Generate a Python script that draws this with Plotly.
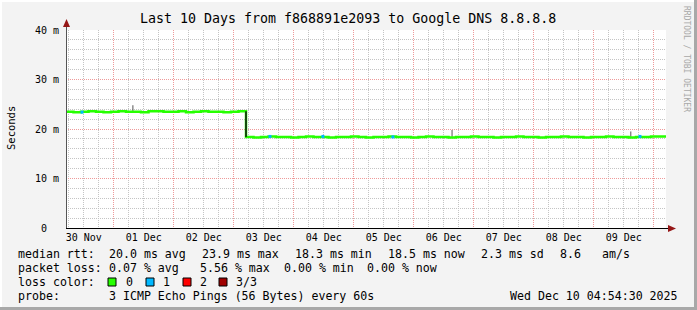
import plotly.graph_objects as go
import pandas as pd

# ---------------- data ----------------
start_time = "2025-11-30 04:54:30"
end_time = "2025-12-10 04:54:30"

median_ms = [
    23.5, 23.4, 23.5, 23.6, 23.5, 23.4, 23.5, 23.6, 23.5, 23.5, 23.4, 23.6,
    23.6, 23.5, 23.5, 23.6, 23.4, 23.5, 23.6, 23.5, 23.5, 23.4, 23.5, 23.6,
    18.4, 18.3, 18.4, 18.5, 18.4, 18.4, 18.3, 18.4, 18.5, 18.4,
    18.4, 18.3, 18.4, 18.4, 18.5, 18.4, 18.3, 18.4, 18.4, 18.5,
    18.4, 18.4, 18.3, 18.4, 18.5, 18.4, 18.4, 18.3, 18.4, 18.4,
    18.5, 18.4, 18.4, 18.3, 18.4, 18.4, 18.5, 18.4, 18.4, 18.3,
    18.4, 18.4, 18.5, 18.4, 18.4, 18.3, 18.4, 18.4, 18.5, 18.4,
    18.4, 18.3, 18.4, 18.4, 18.5, 18.5, 18.5,
]

spike_times = ["2025-12-01 07:40", "2025-12-06 15:20", "2025-12-09 14:50"]
spike_lo = [23.5, 18.4, 18.4]
spike_hi = [24.8, 19.8, 19.5]

loss1_times = ["2025-11-30 11:20", "2025-12-03 14:30", "2025-12-04 11:40",
               "2025-12-05 15:40", "2025-12-09 18:30"]
loss1_vals = [23.4, 18.5, 18.5, 18.4, 18.5]

y_tickvals = [0, 10, 20, 30, 40]
y_ticktext = ["0  ", "10 m", "20 m", "30 m", "40 m"]

title_text = "Last 10 Days from f868891e2093 to Google DNS 8.8.8.8"
legend_rows = [
    [("median rtt:", 16), ("20.0 ms avg", 107), ("23.9 ms max", 200),
     ("18.3 ms min", 293), ("18.5 ms now", 386), ("2.3 ms sd", 479),
     ("8.6", 558), ("am/s", 600)],
    [("packet loss:", 16), ("0.07 % avg", 107), ("5.56 % max", 198),
     ("0.00 % min", 282), ("0.00 % now", 365)],
    [("loss color:", 16), ("0", 124), ("1", 161), ("2", 198), ("3/3", 234)],
    [("probe:", 16), ("3 ICMP Echo Pings (56 Bytes) every 60s", 107)],
]
loss_colors = ["#26ff00", "#00b8ff", "#ff0000", "#a00000"]
loss_swatch_x = [108, 146, 183, 219]
stamp_text = "Wed Dec 10 04:54:30 2025"

# ---------------- layout helpers ----------------
W, H = 697, 310
ML, MR, MT, MB = 66, 31, 30, 82
PW = W - ML - MR
PH = H - MT - MB


def px(x):
    return (x - ML) / PW


def py(y):
    return (H - MB - y) / PH


MONO = "DejaVu Sans Mono"

times = pd.date_range(start_time, periods=len(median_ms), freq=pd.Timedelta(hours=3))

fig = go.Figure()

# smoke spikes
sx, sy = [], []
for t, lo, hi in zip(spike_times, spike_lo, spike_hi):
    sx += [t, t, None]
    sy += [lo, hi, None]
fig.add_trace(go.Scatter(x=sx, y=sy, mode="lines",
                         line=dict(color="#555555", width=1), hoverinfo="skip"))

# median line (loss 0 colour)
fig.add_trace(go.Scatter(x=times, y=median_ms, mode="lines",
                         line=dict(color=loss_colors[0], width=2.5, shape="hv"),
                         hoverinfo="skip"))

# dark transitions
dx, dy = [], []
for i in range(1, len(median_ms)):
    if abs(median_ms[i] - median_ms[i - 1]) > 1:
        dx += [times[i], times[i], None]
        dy += [median_ms[i - 1], median_ms[i], None]
fig.add_trace(go.Scatter(x=dx, y=dy, mode="lines",
                         line=dict(color="#111111", width=1.5), hoverinfo="skip"))

# loss 1 marks
fig.add_trace(go.Scatter(x=loss1_times, y=loss1_vals, mode="markers",
                         marker=dict(color=loss_colors[1], symbol="square", size=3,
                                     line=dict(width=0)),
                         hoverinfo="skip"))

annotations = []
annotations.append(dict(text=title_text, xref="paper", yref="paper",
                        x=px(347.5), y=py(19), xanchor="center", yanchor="middle",
                        showarrow=False, font=dict(family=MONO, size=13.3, color="#000")))
annotations.append(dict(text="Seconds", xref="paper", yref="paper",
                        x=px(10.5), y=py(128.5), xanchor="center", yanchor="middle",
                        textangle=-90, showarrow=False,
                        font=dict(family=MONO, size=10.5, color="#000")))
annotations.append(dict(text="RRDTOOL / TOBI OETIKER", xref="paper", yref="paper",
                        x=px(687), y=py(59), xanchor="center", yanchor="middle",
                        textangle=90, showarrow=False,
                        font=dict(family=MONO, size=8, color="#a8a8a8")))
row_y = [254, 268, 282, 296]
for row, yy in zip(legend_rows, row_y):
    for txt, xx in row:
        annotations.append(dict(text=txt, xref="paper", yref="paper",
                                x=px(xx), y=py(yy), xanchor="left", yanchor="middle",
                                showarrow=False,
                                font=dict(family=MONO, size=11.6, color="#000")))
annotations.append(dict(text=stamp_text, xref="paper", yref="paper",
                        x=px(680), y=py(296), xanchor="right", yanchor="middle",
                        showarrow=False, font=dict(family=MONO, size=11.6, color="#000")))

shapes = []
# loss colour swatches
for c, xx in zip(loss_colors, loss_swatch_x):
    shapes.append(dict(type="rect", xref="paper", yref="paper",
                       x0=px(xx), x1=px(xx + 8), y0=py(278), y1=py(286),
                       fillcolor=c, line=dict(color="#000", width=1)))
# frame edges
shapes.append(dict(type="rect", xref="paper", yref="paper", x0=px(694), x1=px(697),
                   y0=py(310), y1=py(0), fillcolor="#a8a8a8", line=dict(width=0)))
shapes.append(dict(type="rect", xref="paper", yref="paper", x0=px(0), x1=px(697),
                   y0=py(310), y1=py(307), fillcolor="#a8a8a8", line=dict(width=0)))
shapes.append(dict(type="rect", xref="paper", yref="paper", x0=px(0), x1=px(694),
                   y0=py(2), y1=py(0), fillcolor="#ffffff", line=dict(width=0)))
shapes.append(dict(type="rect", xref="paper", yref="paper", x0=px(0), x1=px(2),
                   y0=py(307), y1=py(0), fillcolor="#ffffff", line=dict(width=0)))
# axis lines
shapes.append(dict(type="line", xref="paper", yref="paper", x0=px(66.5), x1=px(66.5),
                   y0=py(228), y1=py(24), line=dict(color="#555555", width=1)))
shapes.append(dict(type="line", xref="paper", yref="paper", x0=px(66), x1=px(670),
                   y0=py(228.5), y1=py(228.5), line=dict(color="#000000", width=1)))
# arrows
shapes.append(dict(type="path", xref="paper", yref="paper",
                   path=f"M {px(66.5)} {py(19)} L {px(63)} {py(27)} L {px(70)} {py(27)} Z",
                   fillcolor="#951616", line=dict(width=0)))
shapes.append(dict(type="path", xref="paper", yref="paper",
                   path=f"M {px(676)} {py(228.5)} L {px(668)} {py(225)} L {px(668)} {py(232)} Z",
                   fillcolor="#951616", line=dict(width=0)))

fig.update_layout(
    width=W, height=H,
    margin=dict(l=ML, r=MR, t=MT, b=MB, pad=0),
    paper_bgcolor="#f3f3f3", plot_bgcolor="#ffffff",
    showlegend=False,
    annotations=annotations, shapes=shapes,
    xaxis=dict(
        type="date", range=[start_time, end_time],
        tick0="2025-11-30", dtick=86400000, ticklabelmode="period",
        tickformat="%d %b", ticks="", showline=False, zeroline=False,
        showgrid=True, gridcolor="#ee9a9a", griddash="1px,1px", gridwidth=1,
        minor=dict(dtick=21600000, showgrid=True, gridcolor="#c4c4c4",
                   griddash="1px,1px", gridwidth=1),
        tickfont=dict(family=MONO, size=10, color="#000"),
        ticklabelstandoff=2,
    ),
    yaxis=dict(
        range=[0, 40], tickvals=y_tickvals, ticktext=y_ticktext,
        ticks="", showline=False, zeroline=False,
        showgrid=True, gridcolor="#ee9a9a", griddash="1px,1px", gridwidth=1,
        minor=dict(dtick=2, showgrid=True, gridcolor="#c4c4c4",
                   griddash="1px,1px", gridwidth=1),
        tickfont=dict(family=MONO, size=10, color="#000"),
        ticklabelstandoff=6,
    ),
)

fig.write_html("out.html")
